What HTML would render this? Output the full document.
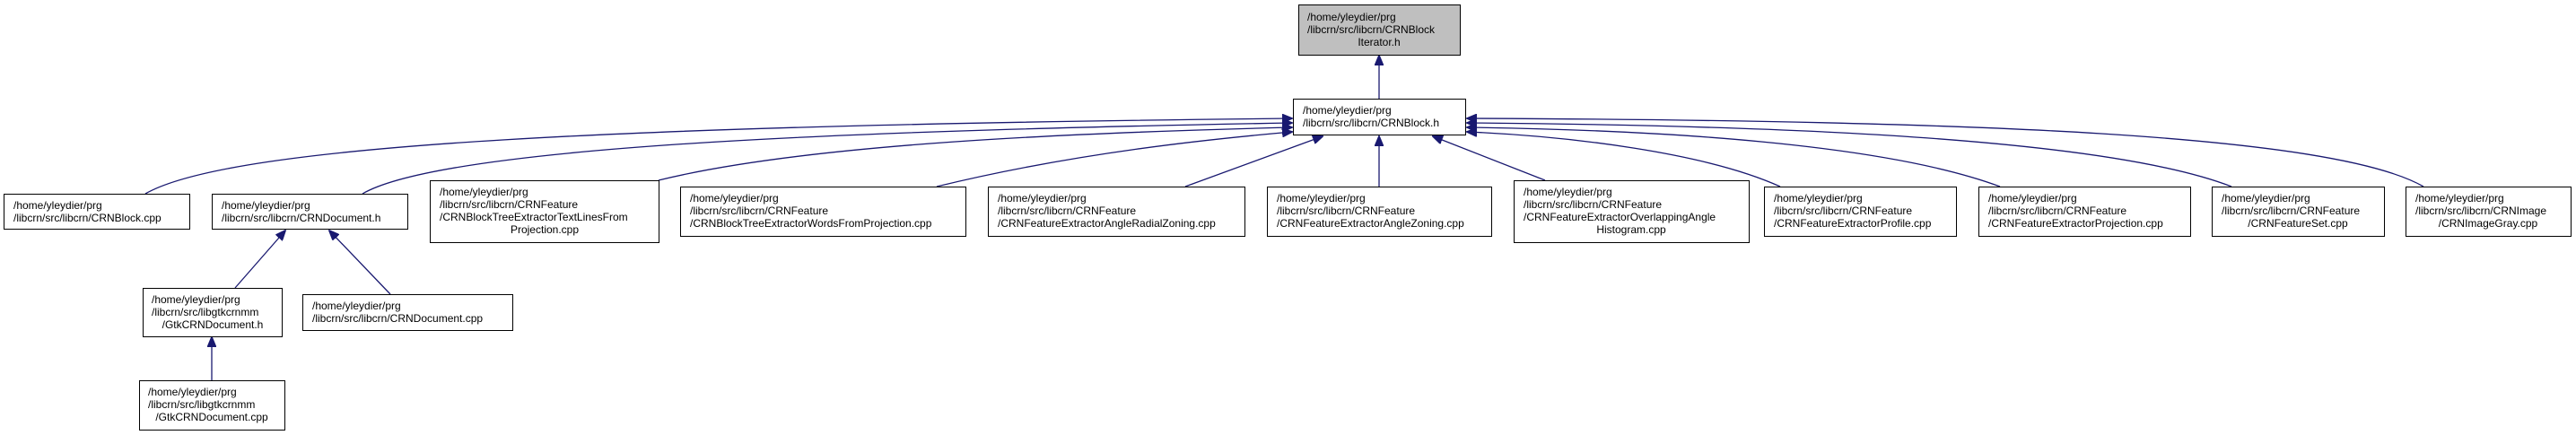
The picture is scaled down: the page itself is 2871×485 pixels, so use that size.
<!DOCTYPE html>
<html><head><meta charset="utf-8"><style>
html,body{margin:0;padding:0;background:#fff;}
svg{display:block;}
text{font-family:"Liberation Sans",Helvetica,Arial,sans-serif;font-size:12px;fill:#000;}
</style></head><body>
<svg width="2871" height="485" viewBox="0 0 2871 485" xmlns="http://www.w3.org/2000/svg">
<defs>
<marker id="a" markerWidth="12" markerHeight="10" refX="11" refY="5" orient="auto" markerUnits="userSpaceOnUse">
<path d="M0,0 L12,5 L0,10 Z" fill="#191970" stroke="#191970"/>
</marker>
</defs>
<g fill="none" stroke="#191970" stroke-width="1.3" marker-end="url(#a)">
<path d="M1537,110 L1537,62"/>
<path d="M162,216 C260,160 700,140 1440,132"/>
<path d="M404,216 C500,160 1000,145 1440,137"/>
<path d="M734,201 C900,160 1200,148 1440,142"/>
<path d="M1044,208 C1200,170 1350,155 1440,147"/>
<path d="M1321,208 L1474,152"/>
<path d="M1537,208 L1537,152"/>
<path d="M1722,201 L1597,152"/>
<path d="M1984,208 C1900,170 1750,152 1635,147"/>
<path d="M2229,208 C2100,160 1850,145 1635,142"/>
<path d="M2487,208 C2350,155 2000,140 1635,137"/>
<path d="M2701,208 C2600,150 2200,134 1635,132"/>
<path d="M262,321 L318,257"/>
<path d="M435,328 L367,257"/>
<path d="M236,424 L236,376"/>
</g>
<g stroke="#000" stroke-width="1" fill="#fff">
<rect x="1447.5" y="5.5" width="180" height="56" fill="#bfbfbf"/>
<rect x="1441.5" y="110.5" width="192" height="40"/>
<rect x="4.5" y="216.5" width="207" height="39"/>
<rect x="236.5" y="216.5" width="218" height="39"/>
<rect x="479.5" y="201.5" width="255" height="69"/>
<rect x="758.5" y="208.5" width="318" height="55"/>
<rect x="1101.5" y="208.5" width="286" height="55"/>
<rect x="1412.5" y="208.5" width="250" height="55"/>
<rect x="1687.5" y="201.5" width="262" height="69"/>
<rect x="1966.5" y="208.5" width="214" height="55"/>
<rect x="2205.5" y="208.5" width="236" height="55"/>
<rect x="2465.5" y="208.5" width="192" height="55"/>
<rect x="2681.5" y="208.5" width="184" height="55"/>
<rect x="159.5" y="321.5" width="155" height="54"/>
<rect x="337.5" y="328.5" width="234" height="40"/>
<rect x="155.5" y="424.5" width="162" height="55"/>
</g>
<text x="1457" y="23">/home/yleydier/prg</text>
<text x="1457" y="37">/libcrn/src/libcrn/CRNBlock</text>
<text x="1537" y="51" text-anchor="middle">Iterator.h</text>

<text x="1452" y="127">/home/yleydier/prg</text>
<text x="1452" y="141">/libcrn/src/libcrn/CRNBlock.h</text>

<text x="15" y="233">/home/yleydier/prg</text>
<text x="15" y="247">/libcrn/src/libcrn/CRNBlock.cpp</text>

<text x="247" y="233">/home/yleydier/prg</text>
<text x="247" y="247">/libcrn/src/libcrn/CRNDocument.h</text>

<text x="490" y="218">/home/yleydier/prg</text>
<text x="490" y="232">/libcrn/src/libcrn/CRNFeature</text>
<text x="490" y="246">/CRNBlockTreeExtractorTextLinesFrom</text>
<text x="607" y="260" text-anchor="middle">Projection.cpp</text>

<text x="769" y="225">/home/yleydier/prg</text>
<text x="769" y="239">/libcrn/src/libcrn/CRNFeature</text>
<text x="769" y="253">/CRNBlockTreeExtractorWordsFromProjection.cpp</text>

<text x="1112" y="225">/home/yleydier/prg</text>
<text x="1112" y="239">/libcrn/src/libcrn/CRNFeature</text>
<text x="1112" y="253">/CRNFeatureExtractorAngleRadialZoning.cpp</text>

<text x="1423" y="225">/home/yleydier/prg</text>
<text x="1423" y="239">/libcrn/src/libcrn/CRNFeature</text>
<text x="1423" y="253">/CRNFeatureExtractorAngleZoning.cpp</text>

<text x="1698" y="218">/home/yleydier/prg</text>
<text x="1698" y="232">/libcrn/src/libcrn/CRNFeature</text>
<text x="1698" y="246">/CRNFeatureExtractorOverlappingAngle</text>
<text x="1818" y="260" text-anchor="middle">Histogram.cpp</text>

<text x="1977" y="225">/home/yleydier/prg</text>
<text x="1977" y="239">/libcrn/src/libcrn/CRNFeature</text>
<text x="1977" y="253">/CRNFeatureExtractorProfile.cpp</text>

<text x="2216" y="225">/home/yleydier/prg</text>
<text x="2216" y="239">/libcrn/src/libcrn/CRNFeature</text>
<text x="2216" y="253">/CRNFeatureExtractorProjection.cpp</text>

<text x="2476" y="225">/home/yleydier/prg</text>
<text x="2476" y="239">/libcrn/src/libcrn/CRNFeature</text>
<text x="2561" y="253" text-anchor="middle">/CRNFeatureSet.cpp</text>

<text x="2692" y="225">/home/yleydier/prg</text>
<text x="2692" y="239">/libcrn/src/libcrn/CRNImage</text>
<text x="2773" y="253" text-anchor="middle">/CRNImageGray.cpp</text>

<text x="169" y="338">/home/yleydier/prg</text>
<text x="169" y="352">/libcrn/src/libgtkcrnmm</text>
<text x="237" y="366" text-anchor="middle">/GtkCRNDocument.h</text>

<text x="348" y="345">/home/yleydier/prg</text>
<text x="348" y="359">/libcrn/src/libcrn/CRNDocument.cpp</text>

<text x="165" y="441">/home/yleydier/prg</text>
<text x="165" y="455">/libcrn/src/libgtkcrnmm</text>
<text x="236" y="469" text-anchor="middle">/GtkCRNDocument.cpp</text>
</svg>
</body></html>
